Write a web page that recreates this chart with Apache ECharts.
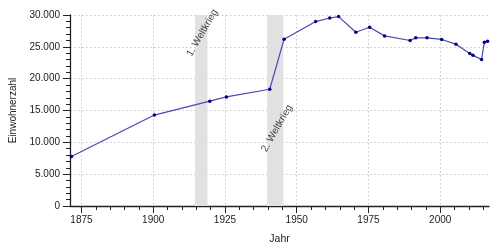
<!DOCTYPE html>
<html>
<head>
<meta charset="utf-8">
<script src="https://cdn.jsdelivr.net/npm/echarts@6/dist/echarts.min.js"></script>
<style>html,body{margin:0;padding:0;background:#fff}#c{width:500px;height:250px}</style>
</head>
<body>
<div id="c"></div>
<script>
// Data
const years = [1871.5, 1900.4, 1919.7, 1925.5, 1940.6, 1945.6, 1956.6, 1961.5, 1964.6, 1970.6, 1975.4, 1980.6, 1989.5, 1991.5, 1995.4, 2000.5, 2005.5, 2010.3, 2011.4, 2014.4, 2015.4, 2016.5];
const population = [7770, 14280, 16470, 17140, 18340, 26200, 28970, 29530, 29750, 27300, 28080, 26720, 26000, 26410, 26410, 26160, 25420, 23970, 23660, 23030, 25730, 25890];
const warNames = ['1. Weltkrieg', '2. Weltkrieg'];
const warStart = [1914.6, 1939.7];
const warEnd = [1918.9, 1945.35];
const warLabelX = [1917.1, 1943.1];
const warLabelY = [27200, 12200];
const xMajorTicks = [1875, 1900, 1925, 1950, 1975, 2000];
const xMinorTicks = [1875, 1880, 1885, 1890, 1895, 1900, 1905, 1910, 1915, 1920, 1925, 1930, 1935, 1940, 1945, 1950, 1955, 1960, 1965, 1970, 1975, 1980, 1985, 1990, 1995, 2000, 2005, 2010, 2015];
const yMinorTicks = [1000, 2000, 3000, 4000, 6000, 7000, 8000, 9000, 11000, 12000, 13000, 14000, 16000, 17000, 18000, 19000, 21000, 22000, 23000, 24000, 26000, 27000, 28000, 29000];

const fmt = v => String(v).replace(/\B(?=(\d{3})+(?!\d))/g, '.');
const font = 'Liberation Sans, Arial, sans-serif';
const axisColor = '#222';
const textColor = '#222';
const gridLine = { show: true, lineStyle: { color: '#c8c8c8', type: [1.5, 2.5], width: 1 } };

const chart = echarts.init(document.getElementById('c'), null, { renderer: 'canvas' });
chart.setOption({
  animation: false,
  backgroundColor: '#fff',
  grid: { left: 68, right: 11, top: 15, bottom: 44, containLabel: false },
  xAxis: [
    {
      type: 'value', min: 1871, max: 2017,
      name: 'Jahr', nameLocation: 'middle', nameGap: 28,
      nameTextStyle: { fontSize: 10.5, color: textColor, fontFamily: font },
      axisLine: { show: true, lineStyle: { color: axisColor, width: 1.3 } },
      axisTick: { show: true, length: 7, customValues: xMajorTicks, lineStyle: { color: axisColor, width: 1 } },
      axisLabel: { customValues: xMajorTicks, margin: 9, fontSize: 10, color: textColor, fontFamily: font, formatter: v => String(v) },
      splitLine: gridLine
    },
    {
      type: 'value', min: 1871, max: 2017, position: 'bottom',
      axisLine: { show: false },
      axisTick: { show: true, length: 4, customValues: xMinorTicks, lineStyle: { color: axisColor, width: 1 } },
      axisLabel: { show: false },
      splitLine: { show: false }
    }
  ],
  yAxis: [
    {
      type: 'value', min: 0, max: 30000, interval: 5000,
      name: 'Einwohnerzahl', nameLocation: 'middle', nameGap: 52, nameRotate: 90,
      nameTextStyle: { fontSize: 10, color: textColor, fontFamily: font },
      axisLine: { show: true, lineStyle: { color: axisColor, width: 1.3 } },
      axisTick: { show: true, length: 7, lineStyle: { color: axisColor, width: 1 } },
      axisLabel: { margin: 10, fontSize: 10, color: textColor, fontFamily: font, formatter: fmt },
      splitLine: gridLine
    },
    {
      type: 'value', min: 0, max: 30000, position: 'left', offset: 0,
      axisLine: { show: false },
      axisTick: { show: true, length: 4, customValues: yMinorTicks, lineStyle: { color: axisColor, width: 1 } },
      axisLabel: { show: false },
      splitLine: { show: false }
    }
  ],
  series: [
    {
      type: 'line', xAxisIndex: 0, yAxisIndex: 0, z: 1,
      data: [],
      markArea: {
        silent: true,
        itemStyle: { color: '#e1e1e1' },
        data: warStart.map((s, i) => [{ xAxis: s }, { xAxis: warEnd[i] }])
      }
    },
    {
      type: 'line', xAxisIndex: 0, yAxisIndex: 0, z: 3,
      data: years.map((y, i) => [y, population[i]]),
      lineStyle: { color: '#4a4ab4', width: 1.2 },
      symbol: 'circle', symbolSize: 3.5, showSymbol: true,
      itemStyle: { color: '#000080' }
    },
    {
      type: 'scatter', xAxisIndex: 0, yAxisIndex: 0, z: 4, symbolSize: 0,
      data: warNames.map((n, i) => [warLabelX[i], warLabelY[i], n]),
      label: {
        show: true, position: 'inside', rotate: 60, align: 'center', verticalAlign: 'middle',
        formatter: p => p.value[2], fontSize: 10, color: '#111', fontFamily: font
      }
    }
  ]
});
</script>
</body>
</html>
